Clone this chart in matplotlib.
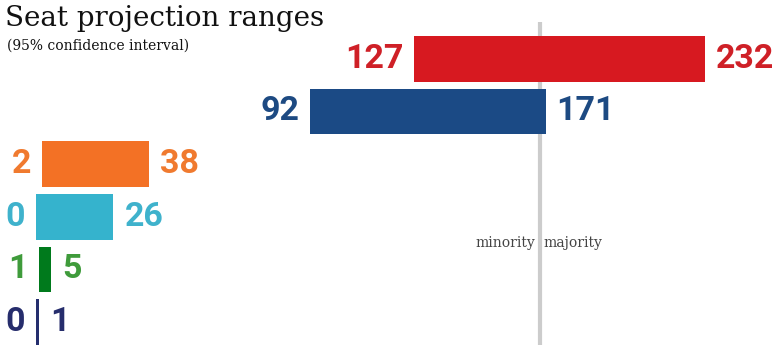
"""Seat projection ranges chart"""

import matplotlib
matplotlib.use('Agg')
import matplotlib.pyplot as plt

# Data
parties = ["LPC", "CPC", "NDP", "BQ", "GPC", "PPC"]
low = [127, 92, 2, 0, 1, 0]
high = [232, 171, 38, 26, 5, 1]
bar_colors = ["#d71920", "#1b4a85", "#f37125", "#35b3cd", "#007a1c", "#252e6e"]
text_colors = ["#cf2027", "#1d4a82", "#f07a2f", "#3fb2cc", "#3f9b3b", "#262d6c"]
majority = 169
x_max = 224.5

W, H = 780, 357
fig = plt.figure(figsize=(W / 100, H / 100), dpi=100)
ax = fig.add_axes([36 / W, 12 / H, 669 / W, 323 / H])

y = list(range(len(parties)))
widths = [h - l for l, h in zip(low, high)]
ax.barh(y, widths, left=low, height=0.87, color=bar_colors, zorder=2)

ax.axvline(majority, color="#cccccc", lw=3, zorder=1)

num_font = dict(family="Roboto", fontweight="bold", fontsize=24.5)
for i in y:
    ax.annotate(str(low[i]), xy=(low[i], i), xytext=(-8, 0),
                textcoords="offset points", ha="right", va="center",
                color=text_colors[i], annotation_clip=False, **num_font)
    ax.annotate(str(high[i]), xy=(min(high[i], x_max), i), xytext=(8, 0),
                textcoords="offset points", ha="left", va="center",
                color=text_colors[i], annotation_clip=False, **num_font)

ax.annotate("minority", xy=(majority, 3.5), xytext=(-3, 0),
            textcoords="offset points", ha="right", va="center",
            fontsize=10, family="DejaVu Serif", color="#444444")
ax.annotate("majority", xy=(majority, 3.5), xytext=(2.5, 0),
            textcoords="offset points", ha="left", va="center",
            fontsize=10, family="DejaVu Serif", color="#444444")

ax.set_xlim(0, x_max)
ax.set_ylim(5.436, -0.70)
ax.set_axis_off()

fig.text(5 / W, 1 - 18 / H, "Seat projection ranges", fontsize=20,
         family="DejaVu Serif", color="#111111", va="center", ha="left")
fig.text(7 / W, 1 - 46 / H, "(95% confidence interval)", fontsize=10,
         family="DejaVu Serif", color="#111111", va="center", ha="left")

fig.savefig("out.png", dpi=100)
